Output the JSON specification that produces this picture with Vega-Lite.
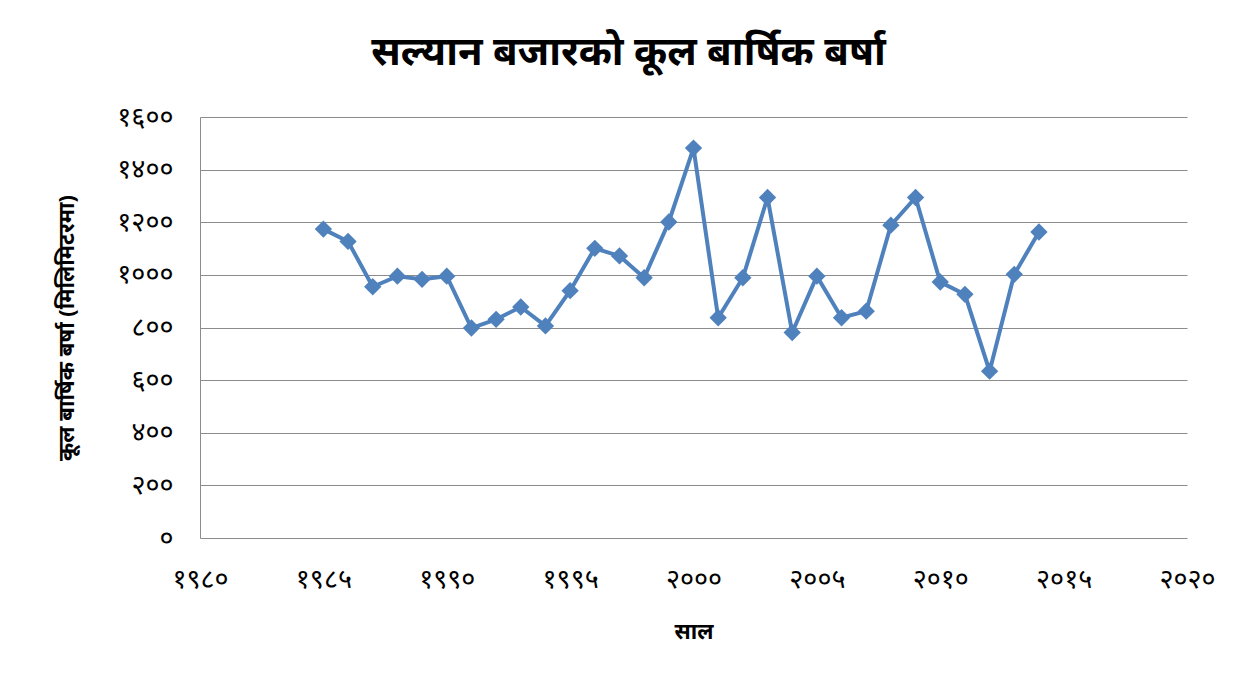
{
  "$schema": "https://vega.github.io/schema/vega-lite/v6.json",
  "autosize": "none",
  "width": 987,
  "height": 421,
  "padding": {"left": 200, "top": 117, "right": 62, "bottom": 138},
  "background": "white",
  "config": {"view": {"stroke": null}},
  "title": {
    "text": "सल्यान बजारको कूल बार्षिक बर्षा",
    "font": "Noto Sans",
    "fontSize": 40,
    "fontWeight": "bold",
    "color": "black",
    "anchor": "middle",
    "dx": -65,
    "offset": 30
  },
  "data": {
    "values": [
      {"year": 1985, "rain": 1174},
      {"year": 1986, "rain": 1127},
      {"year": 1987, "rain": 955},
      {"year": 1988, "rain": 995},
      {"year": 1989, "rain": 983},
      {"year": 1990, "rain": 995},
      {"year": 1991, "rain": 798},
      {"year": 1992, "rain": 831},
      {"year": 1993, "rain": 878},
      {"year": 1994, "rain": 806},
      {"year": 1995, "rain": 940},
      {"year": 1996, "rain": 1101},
      {"year": 1997, "rain": 1072},
      {"year": 1998, "rain": 989},
      {"year": 1999, "rain": 1201},
      {"year": 2000, "rain": 1482},
      {"year": 2001, "rain": 837},
      {"year": 2002, "rain": 989},
      {"year": 2003, "rain": 1294},
      {"year": 2004, "rain": 781},
      {"year": 2005, "rain": 995},
      {"year": 2006, "rain": 837},
      {"year": 2007, "rain": 862},
      {"year": 2008, "rain": 1189},
      {"year": 2009, "rain": 1294},
      {"year": 2010, "rain": 973},
      {"year": 2011, "rain": 926},
      {"year": 2012, "rain": 634},
      {"year": 2013, "rain": 1002},
      {"year": 2014, "rain": 1163}
    ]
  },
  "encoding": {
    "x": {
      "field": "year",
      "type": "quantitative",
      "scale": {"domain": [1980, 2020], "nice": false, "zero": false},
      "axis": {
        "values": [1980, 1985, 1990, 1995, 2000, 2005, 2010, 2015, 2020],
        "grid": false,
        "domain": false,
        "ticks": false,
        "labelPadding": 28,
        "labelFont": "Noto Sans",
        "labelFontSize": 27,
        "labelFontWeight": "normal",
        "labelColor": "black",
        "labelFlush": false,
        "labelOverlap": false,
        "labelExpr": "replace(replace(replace(replace(replace(replace(replace(replace(replace(replace(format(datum.value,'d'),regexp('0','g'),'०'),regexp('1','g'),'१'),regexp('2','g'),'२'),regexp('3','g'),'३'),regexp('4','g'),'४'),regexp('5','g'),'५'),regexp('6','g'),'६'),regexp('7','g'),'७'),regexp('8','g'),'८'),regexp('9','g'),'९')",
        "title": "साल",
        "titleFont": "Noto Sans",
        "titleFontSize": 22,
        "titleFontWeight": "bold",
        "titleColor": "black",
        "titlePadding": 29
      }
    },
    "y": {
      "field": "rain",
      "type": "quantitative",
      "scale": {"domain": [0, 1600], "nice": false},
      "axis": {
        "values": [0, 200, 400, 600, 800, 1000, 1200, 1400, 1600],
        "grid": true,
        "gridColor": "#8c8c8c",
        "gridWidth": 1,
        "domain": true,
        "domainColor": "#8c8c8c",
        "ticks": false,
        "labelPadding": 27,
        "labelFont": "Noto Sans",
        "labelFontSize": 27,
        "labelFontWeight": "normal",
        "labelColor": "black",
        "labelOverlap": false,
        "labelExpr": "replace(replace(replace(replace(replace(replace(replace(replace(replace(replace(format(datum.value,'d'),regexp('0','g'),'०'),regexp('1','g'),'१'),regexp('2','g'),'२'),regexp('3','g'),'३'),regexp('4','g'),'४'),regexp('5','g'),'५'),regexp('6','g'),'६'),regexp('7','g'),'७'),regexp('8','g'),'८'),regexp('9','g'),'९')",
        "title": "कूल बार्षिक बर्षा (मिलिमिटरमा)",
        "titleFont": "Noto Sans",
        "titleFontSize": 22,
        "titleFontWeight": "bold",
        "titleColor": "black",
        "titlePadding": 38
      }
    }
  },
  "layer": [
    {
      "mark": {"type": "line", "color": "#4F81BD", "strokeWidth": 4}
    },
    {
      "mark": {"type": "point", "shape": "diamond", "filled": true, "color": "#4F81BD", "size": 300, "opacity": 1}
    }
  ]
}
